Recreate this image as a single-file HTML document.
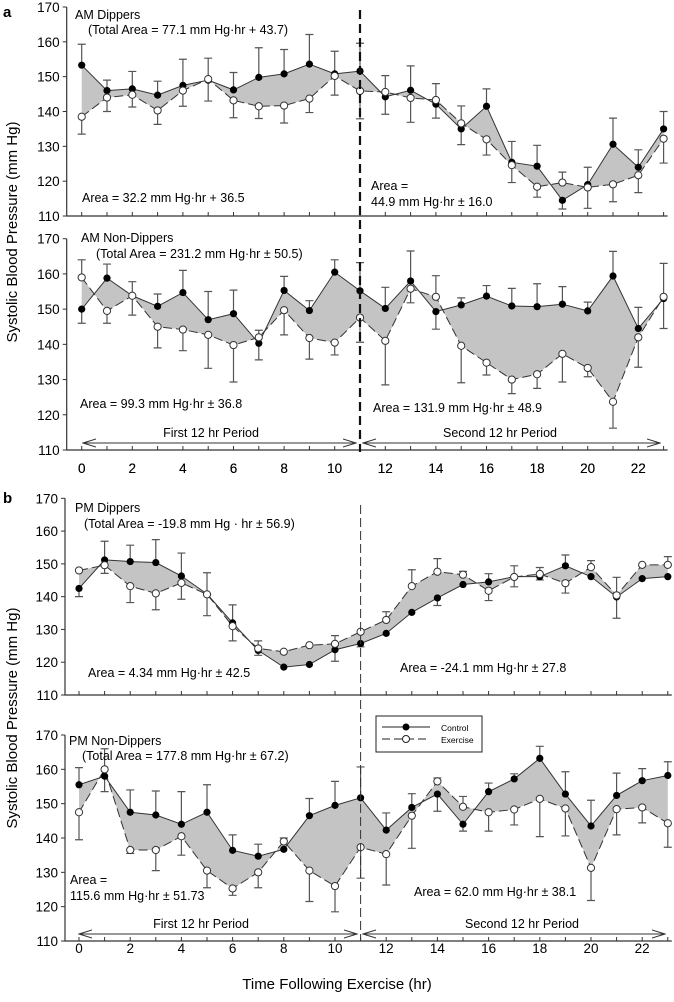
<!DOCTYPE html>
<html><head><meta charset="utf-8"><style>
html,body{margin:0;padding:0;background:#fff;}
svg{display:block;font-family:"Liberation Sans",Arial,sans-serif;}
</style></head><body>
<svg id="chart" width="674" height="1002" viewBox="0 0 674 1002" xmlns="http://www.w3.org/2000/svg">
<text x="3" y="17" font-size="15" font-weight="bold">a</text>
<text x="3" y="503" font-size="15" font-weight="bold">b</text>
<text transform="translate(17,232) rotate(-90)" text-anchor="middle" font-size="15">Systolic Blood Pressure (mm Hg)</text>
<text transform="translate(17,718) rotate(-90)" text-anchor="middle" font-size="15">Systolic Blood Pressure (mm Hg)</text>
<text x="337" y="989" text-anchor="middle" font-size="15">Time Following Exercise (hr)</text>
<g id="marks"></g>
</svg>
<script>
const hours = [0,1,2,3,4,5,6,7,8,9,10,11,12,13,14,15,16,17,18,19,20,21,22,23];
const yTicks = [110,120,130,140,150,160,170];
const xTickLabels = [0,2,4,6,8,10,12,14,16,18,20,22];

const amDipCtrl = [153.3,146,146.5,144.7,147.5,149,146.2,149.8,150.8,153.6,150.8,151.6,144.2,146.1,142.1,135,141.5,125.4,124.3,114.5,119,130.6,124,135];
const amDipEx = [138.5,144,144.8,140.3,146,149.3,143.2,141.5,141.7,143.7,150.2,145.9,145.6,143.9,143.3,136.6,132,124.6,118.4,119.6,118.2,119.1,121.7,132.2];
const amDipCtrlErr = [6,3,5,4,7.5,6,5,8.5,7,8.5,6.5,8,5,7,4,4.5,5,6,6,2.5,5,7.5,5,5];
const amDipExErr = [5,4,3.5,4,4.5,6,5,3.5,5,4,5.5,8,4.7,7,4.7,5,4.5,5,3,3,6,5,5,7];

const amNonCtrl = [150,158.8,153.8,150.8,154.7,147,148.7,140.3,155.3,149.6,160.5,155.2,150.2,158,149.3,151.2,153.7,150.9,150.7,151.4,149.5,159.4,144.5,153];
const amNonEx = [159,149.5,153.8,145,144.2,142.7,139.8,142,149.7,141.8,140.5,147.6,141,155.8,153.5,139.6,134.8,130,131.5,137.3,133.3,123.7,142,153.5];
const amNonCtrlErr = [4,4,4,3.5,6.3,8,6.7,4.7,4,2.8,3.5,8,6,8.5,5,2,3,5,6.5,5,2.5,7,6,8.5];
const amNonExErr = [5,3.5,5.5,6,6,9.5,10.5,2,7,6,3.5,7,12.5,4,6,10.5,3.5,4,4,8,2.5,7.5,8.5,9.5];

const pmDipCtrl = [142.5,151.2,150.7,150.4,146.3,140.8,132,123.6,118.5,119.3,123.8,125.7,128.8,135.2,139.6,143.7,144.5,146.1,146.1,149.4,146.1,139.9,145.5,146.1];
const pmDipEx = [148,149.6,143.2,141,144.2,140.7,131,124.2,123.2,125.2,125.6,129.3,132.9,143.2,147.6,146.7,141.8,146,146.9,144.1,149,140.4,149.7,149.7];
const pmDipCtrlErr = [2.5,5.7,5,7,7,6.5,5.5,1.5,0,0,3.5,1,0,0,2.3,0,2.5,3.3,1,3.3,0,6.5,0,0];
const pmDipExErr = [0,2.5,5,5,5,6.5,4.5,2.3,0,0,2.5,0,2.5,5,4,1,3,3,2,3,2,5.5,0,2.5];

const pmNonCtrl = [155.5,158,147.5,146.7,144,147.5,136.4,134.7,136.7,146.5,149.5,151.7,142.3,148.9,152.8,144,153.5,157.2,163.2,152.8,143.5,152.4,156.7,158.2];
const pmNonEx = [147.5,160,136.5,136.5,140.5,130.5,125.3,130,139,130.5,126,137.3,135.3,146.5,156.5,149.1,147.5,148.3,151.4,148.6,131.3,148.4,148.9,144.3];
const pmNonCtrlErr = [5,4.5,6.5,7,9.5,8,4.5,3.5,0,5,7,9,5,4,5,2,2.5,1.5,3.5,6.5,7.5,6.5,3.5,4];
const pmNonExErr = [8,6,1,6,5.5,5,2,4.5,1,9,7.5,9,9,9.5,1,3,5.5,4.5,11,8,9.5,7.5,4.5,7];

const NS = "http://www.w3.org/2000/svg";
const root = document.getElementById("marks");
function mk(tag, attrs, parent){
  const e = document.createElementNS(NS, tag);
  for (const k in attrs) e.setAttribute(k, attrs[k]);
  (parent||root).appendChild(e);
  return e;
}
const panels = [
  {id:"am-dippers", ctrl:amDipCtrl, ex:amDipEx, ce:amDipCtrlErr, ee:amDipExErr, x0:81.7, dx:25.3, yTop:7, yBot:216, axX:66.7, xLabels:true, labelY:473},
  {id:"am-non-dippers", ctrl:amNonCtrl, ex:amNonEx, ce:amNonCtrlErr, ee:amNonExErr, x0:81.7, dx:25.3, yTop:238.7, yBot:450, axX:66.7, xLabels:true, labelY:473},
  {id:"pm-dippers", ctrl:pmDipCtrl, ex:pmDipEx, ce:pmDipCtrlErr, ee:pmDipExErr, x0:79, dx:25.6, yTop:498.3, yBot:695, axX:65, xLabels:false},
  {id:"pm-non-dippers", ctrl:pmNonCtrl, ex:pmNonEx, ce:pmNonCtrlErr, ee:pmNonExErr, x0:79, dx:25.6, yTop:735, yBot:941, axX:65, xLabels:true, labelY:953}
];
panels.forEach(p => {
  const g = mk("g", {});
  
  
  const xs = h => p.x0 + p.dx*h;
  const ys = v => p.yTop + (170 - v)*(p.yBot - p.yTop)/60;
  // shaded area
  let pts = hours.map((h,i)=> xs(h)+","+ys(p.ctrl[i]));
  for (let i=hours.length-1;i>=0;i--) pts.push(xs(hours[i])+","+ys(p.ex[i]));
  const area = mk("polygon", {points:pts.join(" "), fill:"#c4c4c4", stroke:"none"}, g);
  
  
  // axes
  const xEnd = xs(23)+4;
  const ax = mk("path", {d:`M${p.axX},${p.yTop}V${p.yBot}H${xEnd}`, stroke:"#333", "stroke-width":1.2, fill:"none"}, g);
  
  
  yTicks.forEach(t => {
    mk("line", {x1:p.axX-4, x2:p.axX, y1:ys(t), y2:ys(t), stroke:"#333"}, g);
    const tl = mk("text", {x:p.axX-7, y:ys(t)+5, "text-anchor":"end", "font-size":13.5}, g);
    tl.textContent = t;
    
    
  });
  hours.forEach(h => mk("line", {x1:xs(h), x2:xs(h), y1:p.yBot, y2:p.yBot-4, stroke:"#333"}, g));
  if (p.xLabels) xTickLabels.forEach(h => {
    const tl = mk("text", {x:xs(h), y:p.labelY, "text-anchor":"middle", "font-size":13.5}, g);
    tl.textContent = h;
    
    
  });
  // error bars
  hours.forEach((h,i) => {
    const cUp = p.ctrl[i] >= p.ex[i];
    [[p.ctrl[i], p.ce[i], cUp ? 1 : -1],[p.ex[i], p.ee[i], cUp ? -1 : 1]].forEach(([v,e,s]) => {
      if (e <= 0) return;
      const y1 = ys(v), y2 = ys(v + s*e), x = xs(h);
      const eb = mk("path", {d:`M${x},${y1}V${y2}M${x-4},${y2}H${x+4}`, stroke:"#555", "stroke-width":1.2, fill:"none"}, g);
      
      
    });
  });
  // lines
  const lc = mk("polyline", {points:hours.map((h,i)=>xs(h)+","+ys(p.ctrl[i])).join(" "), fill:"none", stroke:"#333", "stroke-width":1}, g);
  
  
  const le = mk("polyline", {points:hours.map((h,i)=>xs(h)+","+ys(p.ex[i])).join(" "), fill:"none", stroke:"#333", "stroke-width":1, "stroke-dasharray":"9,4"}, g);
  
  
  hours.forEach((h,i) => {
    const c = mk("circle", {cx:xs(h), cy:ys(p.ctrl[i]), r:3.6, fill:"#000"}, g);
    
    
    const e = mk("circle", {cx:xs(h), cy:ys(p.ex[i]), r:3.6, fill:"#fff", stroke:"#333", "stroke-width":1}, g);
    
    
  });
});
</script>
<svg style="position:absolute;left:0;top:0" width="674" height="1002" font-family="Liberation Sans, Arial, sans-serif" font-size="12.5">
<defs><marker id="ah" markerWidth="14" markerHeight="10" refX="13" refY="5" orient="auto-start-reverse" markerUnits="userSpaceOnUse"><path d="M0,1 L13,5 L0,9" fill="none" stroke="#333" stroke-width="1"/></marker></defs>
<line x1="360" y1="10" x2="360" y2="452" stroke="#111" stroke-width="2.2" stroke-dasharray="9,5"/>
<line x1="360.6" y1="505" x2="360.6" y2="941" stroke="#333" stroke-width="1" stroke-dasharray="9,4"/>
<line x1="83" y1="443" x2="356" y2="443" stroke="#333" marker-start="url(#ah)" marker-end="url(#ah)"/>
<line x1="363" y1="443" x2="660" y2="443" stroke="#333" marker-start="url(#ah)" marker-end="url(#ah)"/>
<text x="211" y="437" text-anchor="middle">First 12 hr Period</text>
<text x="500" y="437" text-anchor="middle">Second 12 hr Period</text>
<line x1="79" y1="934" x2="357" y2="934" stroke="#333" marker-start="url(#ah)" marker-end="url(#ah)"/>
<line x1="363" y1="934" x2="665" y2="934" stroke="#333" marker-start="url(#ah)" marker-end="url(#ah)"/>
<text x="201" y="928" text-anchor="middle">First 12 hr Period</text>
<text x="522" y="928" text-anchor="middle">Second 12 hr Period</text>

<text x="75" y="19">AM Dippers</text>
<text x="88" y="34">(Total Area = 77.1 mm Hg·hr + 43.7)</text>
<text x="82" y="202">Area = 32.2 mm Hg·hr + 36.5</text>
<text x="371" y="190">Area =</text>
<text x="371" y="206">44.9 mm Hg·hr ± 16.0</text>

<text x="81" y="242">AM Non-Dippers</text>
<text x="96" y="258">(Total Area = 231.2 mm Hg·hr ± 50.5)</text>
<text x="80" y="408">Area = 99.3 mm Hg·hr ± 36.8</text>
<text x="373" y="412">Area = 131.9 mm Hg·hr ± 48.9</text>

<text x="75" y="512">PM Dippers</text>
<text x="84" y="528">(Total Area = -19.8 mm Hg · hr ± 56.9)</text>
<text x="88" y="677">Area = 4.34 mm Hg·hr ± 42.5</text>
<text x="400" y="672">Area = -24.1 mm Hg·hr ± 27.8</text>

<text x="69" y="745">PM Non-Dippers</text>
<text x="82" y="760">(Total Area = 177.8 mm Hg·hr ± 67.2)</text>
<text x="70" y="884">Area =</text>
<text x="70" y="900">115.6 mm Hg·hr ± 51.73</text>
<text x="414" y="896">Area = 62.0 mm Hg·hr ± 38.1</text>

<g>
<rect x="376" y="716" width="106" height="36" fill="#fff" stroke="#222" stroke-width="1"/>
<line x1="382" y1="727" x2="430" y2="727" stroke="#222"/>
<circle cx="406" cy="727" r="3.5" fill="#000"/>
<line x1="382" y1="739" x2="430" y2="739" stroke="#222" stroke-dasharray="8,4"/>
<circle cx="406" cy="739" r="3.5" fill="#fff" stroke="#222"/>
<text x="441" y="731" font-size="8.5">Control</text>
<text x="441" y="743" font-size="8.5">Exercise</text>
</g>
</svg>
</body></html>
